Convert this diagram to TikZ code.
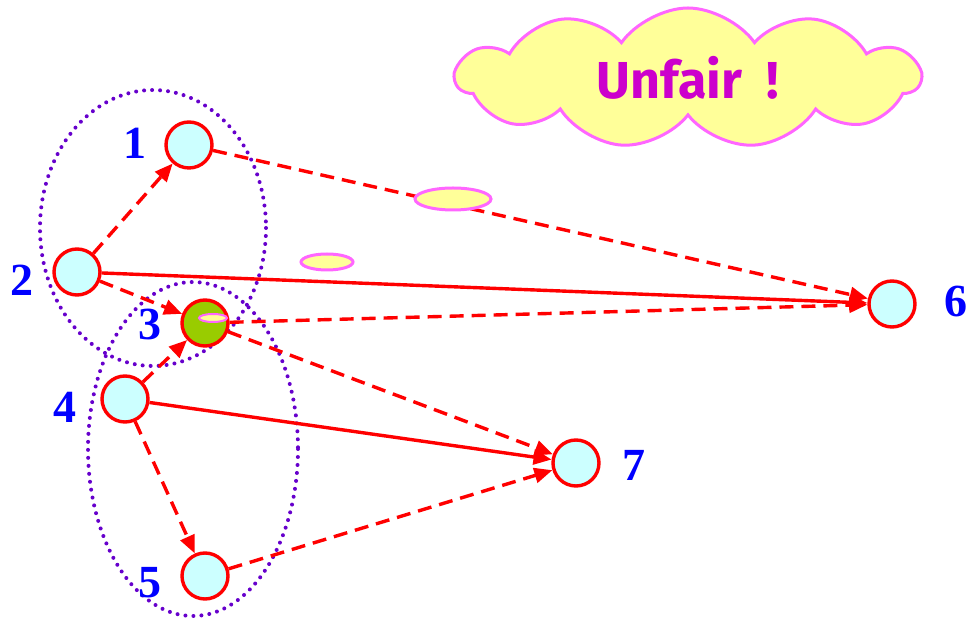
\documentclass[tikz,border=0pt]{standalone}
\usepackage{fontspec}
\usepackage{tikz}
\usetikzlibrary{arrows.meta,shapes.symbols}
\setmainfont{Liberation Serif}
\newfontfamily\cloudfont{Fira Sans}
\definecolor{PeerFill}{HTML}{CCFFFF}
\definecolor{PeerRed}{HTML}{FF0000}
\definecolor{PeerGreen}{HTML}{99CC00}
\definecolor{GroupPurple}{HTML}{6600CC}
\definecolor{NoteYellow}{HTML}{FFFF99}
\definecolor{NotePink}{HTML}{FF66FF}
\definecolor{NoteText}{HTML}{CC00CC}
\definecolor{LabelBlue}{HTML}{0000FF}
\begin{document}
\begin{tikzpicture}[x=0.5pt, y=-0.5pt, >={Triangle[length=9pt,width=7.5pt]},
    peer/.style={circle, draw=PeerRed, fill=PeerFill, line width=1.7pt,
      minimum size=23pt, inner sep=0pt},
    peerlabel/.style={text=LabelBlue, font=\fontsize{23}{23}\selectfont\bfseries},
    link/.style={->, PeerRed, line width=1.7pt},
    hint/.style={link, dash pattern=on 7pt off 4pt},
    group/.style={GroupPurple, line width=2pt, line cap=round,
      dash pattern=on 0pt off 4pt},
    blob/.style={draw=NotePink, fill=NoteYellow, line width=1.5pt}]
    \useasboundingbox (0,0) rectangle (971,619);
    % groups
    \draw[group] (153,228) ellipse[x radius=113, y radius=138];
    \draw[group] (193,449) ellipse[x radius=105, y radius=167];
    % peers
    \node[peer] (p1) at (189,145) {};
    \node[peer] (p2) at (77,272) {};
    \node[peer, fill=PeerGreen] (p3) at (205,323) {};
    \node[peer] (p4) at (125,399) {};
    \node[peer] (p5) at (205,576) {};
    \node[peer] (p6) at (892,304) {};
    \node[peer] (p7) at (576,463) {};
    \node[peerlabel] (l1) at (135,143) {1};
    \node[peerlabel] (l2) at (22,280) {2};
    \node[peerlabel] (l3) at (150,325) {3};
    \node[peerlabel] (l4) at (65,407) {4};
    \node[peerlabel] (l5) at (150,583) {5};
    \node[peerlabel] (l6) at (956,302) {6};
    \node[peerlabel] (l7) at (634,465) {7};
    % links
    \draw[hint] (p2) -- (p1);
    \draw[hint] (p2) -- (p3);
    \draw[hint] (p4) -- (p3);
    \draw[hint] (p4) -- (p5);
    \draw[hint] (p1) -- (p6);
    \draw[hint] (p3) -- (p6);
    \draw[hint] (p3) -- (p7);
    \draw[hint] (p5) -- (p7);
    \draw[link] (p2) -- (p6);
    \draw[link] (p4) -- (p7);
    % messages
    \draw[blob] (453,199) ellipse[x radius=38, y radius=11];
    \draw[blob] (327,262) ellipse[x radius=26, y radius=8];
    \draw[blob, line width=1pt] (213,318) ellipse[x radius=14, y radius=4];
    \node[cloud, cloud puffs=11, cloud puff arc=110, aspect=3.4, blob,
      minimum width=232pt, minimum height=70pt, inner sep=0pt,
      text=NoteText, font=\cloudfont\fontsize{26}{26}\selectfont\bfseries]
      (note) at (688,78) {Unfair\ \ !};
  \end{tikzpicture}
\end{document}
